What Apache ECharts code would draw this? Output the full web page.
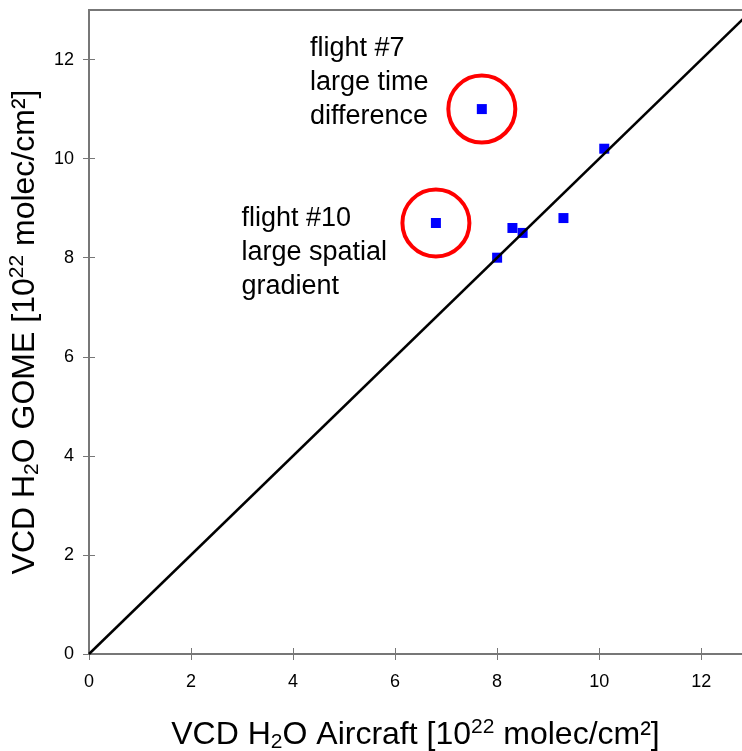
<!DOCTYPE html>
<html>
<head>
<meta charset="utf-8">
<script src="https://cdn.jsdelivr.net/npm/echarts@6/dist/echarts.min.js"></script>
<style>
  html, body { margin: 0; padding: 0; background: #fff; }
  #main { width: 742px; height: 751px; }
</style>
</head>
<body>
<div id="main"></div>
<script>
// data (units of 10^22 molec/cm2)
var aircraft = [7.7, 6.8, 8.0, 8.3, 8.5, 9.3, 10.1];
var gome     = [11.0, 8.7, 8.0, 8.6, 8.5, 8.8, 10.2];
var circled  = [0, 1];              // indexes of the two outliers
var oneToOne = [[0, 0], [13, 13]];
var tickValues = [0, 2, 4, 6, 8, 10, 12];
var notes = [
  { x: 4.33, y: 12.57, text: 'flight #7\nlarge time\ndifference' },
  { x: 2.99, y: 9.14, text: 'flight #10\nlarge spatial\ngradient' }
];

var FONT = '"Liberation Sans", Arial, Helvetica, sans-serif';
var xMax = 12.8, yMax = 13;

var points = aircraft.map(function (v, i) { return [v, gome[i]]; });
var rings = circled.map(function (i) { return points[i]; });

var nameRich = {
  n: { fontSize: 32, fontFamily: FONT, color: '#000' },
  sub: { fontSize: 21, fontFamily: FONT, color: '#000', verticalAlign: 'bottom', padding: [14, 0, 0, 0] },
  sup: { fontSize: 21, fontFamily: FONT, color: '#000', verticalAlign: 'top', padding: [0, 0, 15, 0] }
};

function axisBase(extra) {
  var a = {
    type: 'value', min: 0, splitLine: { show: false },
    axisLine: { show: true, lineStyle: { color: '#777', width: 2 } },
    axisTick: { show: true, length: 6, customValues: tickValues, lineStyle: { color: '#777', width: 1 } },
    axisLabel: { show: false }
  };
  for (var k in extra) a[k] = extra[k];
  return a;
}

var chart = echarts.init(document.getElementById('main'));
chart.setOption({
  animation: false,
  grid: { left: 89, right: 0, top: 10, bottom: 97, containLabel: false, outerBoundsMode: 'none' },
  xAxis: [
    axisBase({
      max: xMax, position: 'bottom',
      axisLabel: { show: true, customValues: tickValues, margin: 19, fontSize: 18, fontFamily: FONT, color: '#000' },
      name: '{n|VCD H}{sub|2}{n|O Aircraft [10}{sup|22}{n| molec/cm²]}',
      nameLocation: 'middle', nameGap: 63,
      nameTextStyle: { rich: nameRich }
    }),
    axisBase({ max: xMax, position: 'bottom', axisTick: { show: true, inside: true, length: 6, customValues: tickValues, lineStyle: { color: '#777', width: 1 } } }),
    axisBase({ max: xMax, position: 'top', axisTick: { show: false } })
  ],
  yAxis: [
    axisBase({
      max: yMax, position: 'left',
      axisLabel: { show: true, customValues: tickValues, margin: 15, fontSize: 18, fontFamily: FONT, color: '#000' },
      name: '{n|VCD H}{sub|2}{n|O GOME [10}{sup|22}{n| molec/cm²]}',
      nameLocation: 'middle', nameGap: 32,
      nameTextStyle: { rich: nameRich }
    }),
    axisBase({ max: yMax, position: 'left', axisTick: { show: true, inside: true, length: 6, customValues: tickValues, lineStyle: { color: '#777', width: 1 } } })
  ],
  series: [
    {
      type: 'line', data: oneToOne, symbol: 'none', silent: true,
      lineStyle: { color: '#000', width: 2.5 }
    },
    {
      type: 'scatter', data: rings, symbol: 'circle', symbolSize: 67, silent: true,
      itemStyle: { color: 'rgba(0,0,0,0)', borderColor: '#ff0000', borderWidth: 4, opacity: 1 }
    },
    {
      type: 'scatter', data: points, symbol: 'rect', symbolSize: 10,
      itemStyle: { color: '#0000ff', opacity: 1 }
    },
    {
      type: 'scatter', symbolSize: 0, silent: true,
      itemStyle: { opacity: 1 },
      data: notes.map(function (n) { return { value: [n.x, n.y], label: { formatter: n.text } }; }),
      label: {
        show: true, position: [0, 0], align: 'left', verticalAlign: 'top',
        fontSize: 27, lineHeight: 34, fontFamily: FONT, color: '#000'
      }
    }
  ]
});
</script>
</body>
</html>
